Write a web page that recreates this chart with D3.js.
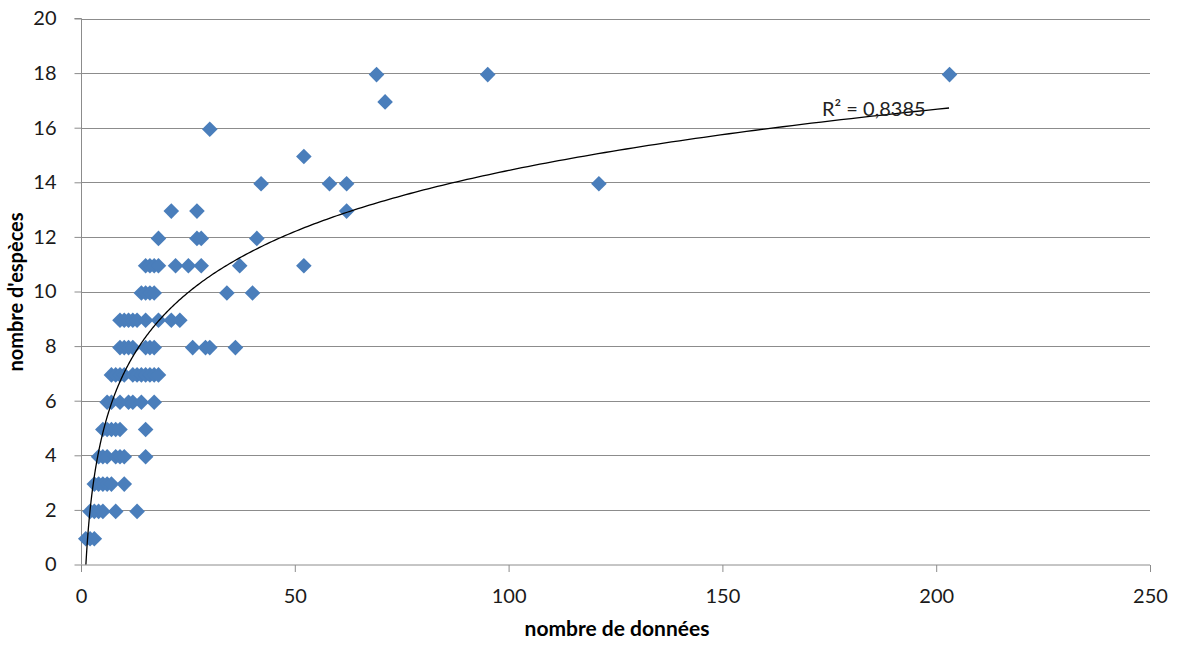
<!DOCTYPE html>
<html>
<head>
<meta charset="utf-8">
<script src="https://cdn.jsdelivr.net/npm/d3@7"></script>
<style>
  html, body { margin: 0; padding: 0; background: #fff; }
  svg { display: block; }
</style>
</head>
<body>
<svg id="chart" width="1179" height="645"></svg>
<script>
// ---- data ----
const pointsX = [
  1, 2, 3,
  2, 3, 4, 5, 8, 13,
  3, 4, 5, 6, 7, 10,
  4, 5, 6, 8, 9, 10, 15,
  5, 6, 7, 8, 9, 15,
  6, 7, 9, 11, 12, 14, 17,
  7, 8, 9, 10, 12, 13, 14, 15, 16, 17, 18,
  9, 10, 11, 12, 15, 16, 17, 26, 29, 30, 36,
  9, 10, 11, 12, 13, 15, 18, 21, 23,
  14, 15, 16, 17, 34, 40,
  15, 16, 17, 18, 22, 25, 28, 37, 52,
  18, 27, 28, 41,
  21, 27, 62,
  42, 58, 62, 121,
  52,
  30,
  71,
  69, 95, 203
];
const pointsY = [
  1, 1, 1,
  2, 2, 2, 2, 2, 2,
  3, 3, 3, 3, 3, 3,
  4, 4, 4, 4, 4, 4, 4,
  5, 5, 5, 5, 5, 5,
  6, 6, 6, 6, 6, 6, 6,
  7, 7, 7, 7, 7, 7, 7, 7, 7, 7, 7,
  8, 8, 8, 8, 8, 8, 8, 8, 8, 8, 8,
  9, 9, 9, 9, 9, 9, 9, 9, 9,
  10, 10, 10, 10, 10, 10,
  11, 11, 11, 11, 11, 11, 11, 11, 11,
  12, 12, 12, 12,
  13, 13, 13,
  14, 14, 14, 14,
  15,
  16,
  17,
  18, 18, 18
];
// logarithmic trend line y = a*ln(x) + b
const trendA = 3.23;
const trendB = -0.44;
const trendRange = [1, 203];
const trendLabel = "R² = 0,8385";
const xTicks = [0, 50, 100, 150, 200, 250];
const yTicks = [0, 2, 4, 6, 8, 10, 12, 14, 16, 18, 20];
const xTitle = "nombre de données";
const yTitle = "nombre d'espèces";

// ---- layout ----
const svg = d3.select("#chart");
const pLeft = 81, pRight = 1150, pTop = 18.5, pBottom = 564.5;
const x = d3.scaleLinear().domain([0, 250]).range([pLeft, pRight]);
const y = d3.scaleLinear().domain([0, 20]).range([pBottom, pTop]);
const gridColor = "#8c8c8c";
const font = "Lato, 'Open Sans', sans-serif";

// gridlines
svg.append("g").selectAll("line").data(yTicks.filter(d => d > 0)).join("line")
  .attr("x1", pLeft).attr("x2", pRight)
  .attr("y1", d => Math.round(y(d)) + 0.5).attr("y2", d => Math.round(y(d)) + 0.5)
  .attr("stroke", gridColor).attr("stroke-width", 1);

// y axis
const yAxis = d3.axisLeft(y).tickValues(yTicks).tickSize(7).tickPadding(18);
const gy = svg.append("g").attr("transform", `translate(${pLeft + 0.5},0)`).call(yAxis);
gy.select(".domain").attr("stroke", gridColor).attr("d", `M-7,${pTop}H0V${pBottom}`);
gy.selectAll(".tick line").attr("stroke", gridColor);
gy.selectAll(".tick text").attr("font-family", font).attr("font-size", 20).attr("fill", "#1a1a1a");

// x axis
const xAxis = d3.axisBottom(x).tickValues(xTicks).tickSize(7).tickPadding(17);
const gx = svg.append("g").attr("transform", `translate(0,${pBottom + 0.5})`).call(xAxis);
gx.select(".domain").attr("stroke", gridColor).attr("d", `M${pLeft},0H${pRight}`);
gx.selectAll(".tick line").attr("stroke", gridColor);
gx.selectAll(".tick text").attr("font-family", font).attr("font-size", 20).attr("fill", "#1a1a1a");

// clip for trend line
svg.append("clipPath").attr("id", "plotclip").append("rect")
  .attr("x", pLeft).attr("y", pTop).attr("width", pRight - pLeft).attr("height", pBottom - pTop);

// points
const pts = pointsX.map((v, i) => ({ x: v, y: pointsY[i] }));
const r = 7.8;
svg.append("g").attr("transform", "translate(0.5,1.5)")
  .selectAll("path").data(pts).join("path")
  .attr("transform", d => `translate(${x(d.x)},${y(d.y)})`)
  .attr("d", `M0,${-r}L${r},0L0,${r}L${-r},0Z`)
  .attr("fill", "#4a7ebb");

// trend line
const trendX = d3.range(0, 401).map(i => trendRange[0] * Math.pow(trendRange[1] / trendRange[0], i / 400));
const line = d3.line().x(d => x(d)).y(d => y(trendA * Math.log(d) + trendB)).curve(d3.curveLinear);
svg.append("path").datum(trendX)
  .attr("clip-path", "url(#plotclip)")
  .attr("d", line)
  .attr("fill", "none").attr("stroke", "#000").attr("stroke-width", 1.3);

// R² label
svg.append("text").attr("x", 822).attr("y", 116)
  .attr("font-family", font).attr("font-size", 20).attr("fill", "#222")
  .text(trendLabel);

// axis titles
svg.append("text").attr("x", 617).attr("y", 636).attr("text-anchor", "middle")
  .attr("font-family", font).attr("font-size", 21).attr("font-weight", "bold")
  .text(xTitle);
svg.append("text").attr("transform", "translate(23,292) rotate(-90)").attr("text-anchor", "middle")
  .attr("font-family", font).attr("font-size", 20).attr("font-weight", "bold")
  .text(yTitle);
</script>
</body>
</html>
